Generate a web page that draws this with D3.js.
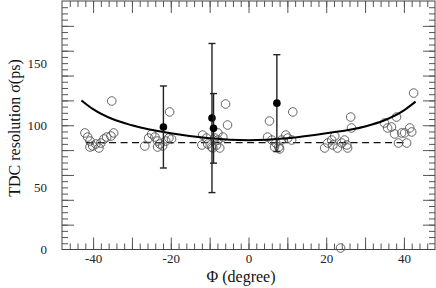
<!DOCTYPE html>
<html>
<head>
<meta charset="utf-8">
<script src="https://cdn.jsdelivr.net/npm/d3@7"></script>
<style>
  body { margin: 0; background: #fff; }
  svg { display: block; }
</style>
</head>
<body>
<script>
// open circles: individual channel measurements
var phiOpen = [-42.1, -41.4, -40.8, -40.1, -39.3, -38.5, -38.0, -37.2, -36.5, -35.4, -34.7, -40.8, -35.2,
  -26.7, -25.7, -24.9, -24.1, -23.4, -22.8, -22.1, -21.3, -20.5, -19.8, -23.4, -20.3,
  -11.8, -10.8, -12.0, -10.5, -9.5, -8.2, -7.4, -7.9, -6.6, -8.7, -9.2, -7.9, -5.9, -5.4,
  4.9, 6.0, 7.0, 7.8, 8.5, 9.6, 10.1, 11.1, 6.7, 8.0, 5.4, 11.4,
  19.6, 20.4, 21.4, 22.2, 21.7, 22.9, 24.0, 24.7, 25.5, 25.3, 26.3, 26.5, 23.7,
  35.0, 35.8, 36.8, 37.6, 38.6, 39.4, 40.2, 41.5, 42.0, 40.7, 38.1, 42.5];
var sigOpen = [93.8, 90.5, 87.3, 83.3, 84.9, 81.7, 85.7, 88.9, 90.5, 91.3, 93.8, 82.5, 119.5,
  83.3, 89.7, 93.0, 90.5, 87.3, 84.9, 83.3, 87.3, 89.7, 88.9, 82.5, 110.7,
  92.1, 89.7, 84.1, 84.9, 82.5, 84.1, 81.7, 88.1, 90.5, 89.7, 81.7, 93.8, 117.1, 100.2,
  90.5, 88.1, 85.7, 82.5, 88.1, 92.1, 89.7, 88.1, 82.5, 80.9, 103.4, 110.7,
  81.7, 85.7, 88.1, 91.3, 84.1, 81.7, 85.7, 88.1, 81.7, 84.1, 106.6, 97.8, 1.2,
  101.8, 97.8, 98.6, 93.0, 85.7, 93.8, 93.8, 97.8, 94.6, 85.7, 106.6, 125.9];

// filled points with error bars
var phiMean = [-21.9, -9.4, -9.0, 7.3];
var sigMean = [98.6, 105.8, 97.5, 117.8];
var sigErr = [33, 60, 28, 39];

// solid curve
var curvePhi = [-43, -40, -35, -30, -20, -10, 0, 10, 20, 30, 35, 40, 43];
var curveSig = [120, 113, 105, 100, 93.5, 89.5, 88, 89.5, 93.5, 99, 104, 112, 119];

// dashed constant level
var constSig = 86;
var constPhi = [-41.8, 41];

var xTickLabels = [-40, -20, 0, 20, 40];
var yTickLabels = [0, 50, 100, 150];

var width = 436, height = 288;
var mLeft = 62, mRight = 435, mTop = 1, mBottom = 249.5;

var svg = d3.select("body").append("svg")
  .attr("width", width)
  .attr("height", height);

var x = d3.scaleLinear().domain([-48, 48]).range([mLeft, mRight]);
var y = d3.scaleLinear().domain([0, 200]).range([mBottom, mTop]);

function strip(g) {
  g.select(".domain").remove();
  g.attr("font-family", "Liberation Serif, serif").attr("font-size", 13);
  g.selectAll(".tick line").attr("stroke", "#555").attr("stroke-width", 1);
  g.selectAll(".tick text").attr("fill", "#222");
}

// bottom ticks
svg.append("g").attr("transform", "translate(0," + mBottom + ")")
  .call(d3.axisBottom(x).tickValues(d3.range(-46, 48, 2)).tickSize(-6).tickFormat("")).call(strip);
svg.append("g").attr("transform", "translate(0," + mBottom + ")")
  .call(d3.axisBottom(x).tickValues(d3.range(-40, 50, 10)).tickSize(-12).tickFormat("")).call(strip);
svg.append("g").attr("transform", "translate(0," + mBottom + ")")
  .call(d3.axisBottom(x).tickValues(xTickLabels).tickSize(0).tickPadding(4).tickFormat(function(d) { return String(d); }))
  .call(strip);
// top ticks
svg.append("g").attr("transform", "translate(0," + mTop + ")")
  .call(d3.axisTop(x).tickValues(d3.range(-46, 48, 2)).tickSize(-6).tickFormat("")).call(strip);
svg.append("g").attr("transform", "translate(0," + mTop + ")")
  .call(d3.axisTop(x).tickValues(d3.range(-40, 50, 10)).tickSize(-12).tickFormat("")).call(strip);

// left ticks
svg.append("g").attr("transform", "translate(" + mLeft + ",0)")
  .call(d3.axisLeft(y).tickValues(d3.range(5, 200, 5)).tickSize(-6).tickFormat("")).call(strip);
svg.append("g").attr("transform", "translate(" + mLeft + ",0)")
  .call(d3.axisLeft(y).tickValues(d3.range(20, 200, 20)).tickSize(-12).tickFormat("")).call(strip);
svg.append("g").attr("transform", "translate(" + mLeft + ",0)")
  .call(d3.axisLeft(y).tickValues(yTickLabels).tickSize(0).tickPadding(15))
  .call(strip);
// right ticks
svg.append("g").attr("transform", "translate(" + mRight + ",0)")
  .call(d3.axisRight(y).tickValues(d3.range(5, 200, 5)).tickSize(-6).tickFormat("")).call(strip);
svg.append("g").attr("transform", "translate(" + mRight + ",0)")
  .call(d3.axisRight(y).tickValues(d3.range(20, 200, 20)).tickSize(-12).tickFormat("")).call(strip);

// frame
svg.append("rect")
  .attr("x", mLeft).attr("y", mTop)
  .attr("width", mRight - mLeft).attr("height", mBottom - mTop)
  .attr("fill", "none").attr("stroke", "#444").attr("stroke-width", 1);

var plot = svg.append("g");

// dashed constant
plot.append("line")
  .attr("x1", x(constPhi[0])).attr("x2", x(constPhi[1]))
  .attr("y1", y(constSig)).attr("y2", y(constSig))
  .attr("stroke", "#111").attr("stroke-width", 1.3)
  .attr("stroke-dasharray", "7,4.5");

// open circles
var openData = phiOpen.map(function(p, i) { return { phi: p, sig: sigOpen[i] }; });
plot.selectAll(".open")
  .data(openData)
  .enter()
  .append("circle")
  .attr("class", "open")
  .attr("cx", function(d) { return x(d.phi); })
  .attr("cy", function(d) { return y(d.sig); })
  .attr("r", 4.3)
  .attr("fill", "none")
  .attr("stroke", "#555")
  .attr("stroke-width", 0.9);

// curve
var curveData = curvePhi.map(function(p, i) { return [p, curveSig[i]]; });
plot.append("path")
  .datum(curveData)
  .attr("d", d3.line().x(function(d) { return x(d[0]); }).y(function(d) { return y(d[1]); }).curve(d3.curveMonotoneX))
  .attr("fill", "none")
  .attr("stroke", "#000")
  .attr("stroke-width", 2);

// error bars + filled points
var meanData = phiMean.map(function(p, i) { return { phi: p, sig: sigMean[i], err: sigErr[i] }; });
var eb = plot.selectAll(".eb")
  .data(meanData)
  .enter()
  .append("g")
  .attr("class", "eb");
eb.append("line")
  .attr("x1", function(d) { return x(d.phi); }).attr("x2", function(d) { return x(d.phi); })
  .attr("y1", function(d) { return y(d.sig + d.err); }).attr("y2", function(d) { return y(d.sig - d.err); })
  .attr("stroke", "#222").attr("stroke-width", 1.4);
[1, -1].forEach(function(s) {
  eb.append("line")
    .attr("x1", function(d) { return x(d.phi) - 3.5; }).attr("x2", function(d) { return x(d.phi) + 3.5; })
    .attr("y1", function(d) { return y(d.sig + s * d.err); }).attr("y2", function(d) { return y(d.sig + s * d.err); })
    .attr("stroke", "#222").attr("stroke-width", 1.4);
});
eb.append("circle")
  .attr("cx", function(d) { return x(d.phi); })
  .attr("cy", function(d) { return y(d.sig); })
  .attr("r", 3.8)
  .attr("fill", "#000");

// axis titles
svg.append("text")
  .attr("x", 241).attr("y", 282)
  .attr("text-anchor", "middle")
  .style("font-family", "Liberation Serif, serif")
  .style("font-size", "16px")
  .attr("fill", "#111")
  .text("Φ (degree)");

svg.append("text")
  .attr("transform", "translate(20,128) rotate(-90)")
  .attr("text-anchor", "middle")
  .style("font-family", "Liberation Serif, serif")
  .style("font-size", "16px")
  .attr("fill", "#111")
  .text("TDC resolution σ(ps)");
</script>
</body>
</html>
